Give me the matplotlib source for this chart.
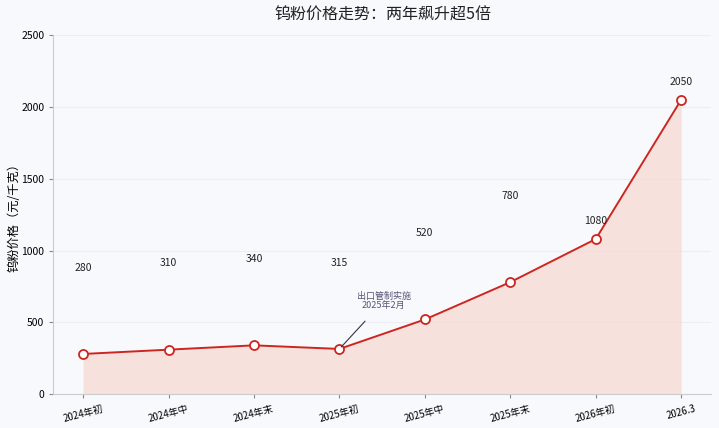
import matplotlib
matplotlib.use("Agg")
import matplotlib.pyplot as plt

plt.rcParams['font.family'] = ['Noto Sans CJK SC', 'DejaVu Sans']

periods = ["2024年初", "2024年中", "2024年末", "2025年初",
           "2025年中", "2025年末", "2026年初", "2026.3"]
prices = [280, 310, 340, 315, 520, 780, 1080, 2050]
# vertical placement of the value labels (data units above each point)
label_lift = [600, 600, 600, 600, 600, 600, 125, 125]
yticks = [0, 500, 1000, 1500, 2000, 2500]

bg = "#f8f9fc"
line_c = "#cc2620"

fig = plt.figure(figsize=(7.19, 4.28), dpi=100, facecolor=bg)
ax = fig.add_axes([0.074, 0.079, 0.915, 0.839], facecolor=bg)

x = list(range(len(prices)))
ax.fill_between(x, prices, 0, color="#f6d9d3", alpha=0.75, linewidth=0)
ax.plot(x, prices, color=line_c, linewidth=1.4, marker="o", markersize=6.5,
        markerfacecolor="white", markeredgecolor=line_c, markeredgewidth=1.3,
        zorder=3)

for xi, v, lift in zip(x, prices, label_lift):
    ax.text(xi, v + lift, str(v), ha="center", va="center", fontsize=7.5,
            color="#222222")

ax.annotate("出口管制实施\n2025年2月", xy=(3, 315), xytext=(3.52, 650),
            ha="center", va="center", fontsize=6.5, color="#555577",
            linespacing=1.1,
            arrowprops=dict(arrowstyle="-", color="#333344", lw=0.8,
                            shrinkA=8, shrinkB=2))

ax.set_xlim(-0.35, 7.35)
ax.set_ylim(0, 2500)
ax.set_yticks(yticks)
ax.set_xticks(x)
ax.set_xticklabels(periods, rotation=15, fontsize=7)
ax.tick_params(axis="y", labelsize=7.5, length=3, color="#888888")
ax.tick_params(axis="x", length=3, color="#888888")
ax.grid(axis="y", color="#eceef4", linewidth=0.8)
ax.set_axisbelow(True)
for s in ("top", "right"):
    ax.spines[s].set_visible(False)
for s in ("left", "bottom"):
    ax.spines[s].set_color("#cccccc")
    ax.spines[s].set_linewidth(0.8)

ax.set_ylabel("钨粉价格（元/千克）", fontsize=8.8)
ax.yaxis.set_label_coords(-0.05, 0.5)
fig.suptitle("钨粉价格走势：两年飙升超5倍", fontsize=11.5, y=0.985,
             x=0.533, color="#222222")

fig.savefig("out.png", dpi=100, facecolor=bg)
